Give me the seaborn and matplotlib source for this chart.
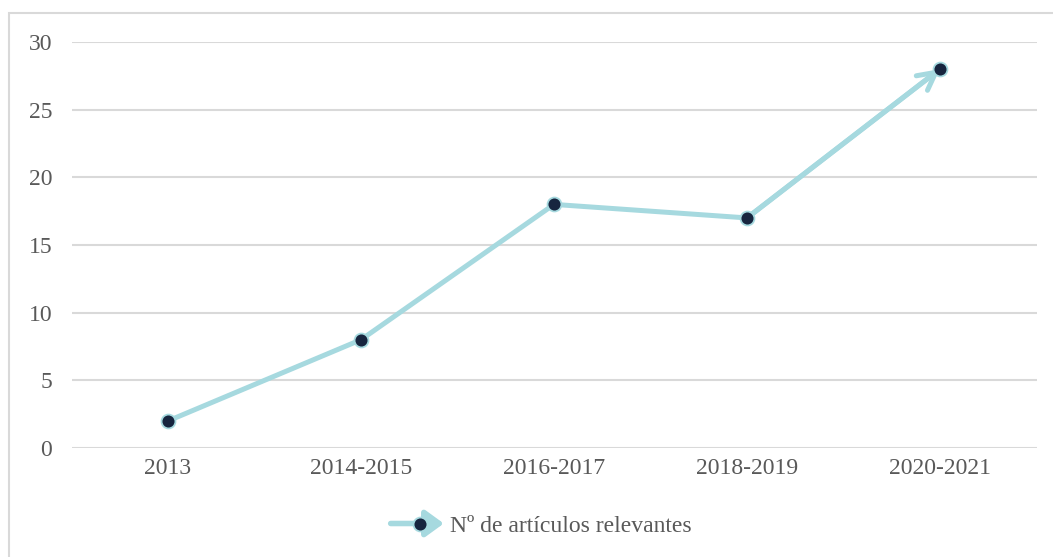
import matplotlib
matplotlib.use("Agg")
import matplotlib.pyplot as plt
import seaborn as sns
import pandas as pd
from matplotlib.lines import Line2D
from matplotlib.legend_handler import HandlerLine2D
from matplotlib.patches import Rectangle, FancyArrowPatch

categories = ["2013", "2014-2015", "2016-2017", "2018-2019", "2020-2021"]
values = [2, 8, 18, 17, 28]
series_name = "Nº de artículos relevantes"
yticks = [0, 5, 10, 15, 20, 25, 30]

LINE = "#A6D9DF"
MARK = "#17253F"
TXT = "#595959"
GRID = "#D9D9D9"
FS = 17

sns.set_theme(style="white")
plt.rcParams["font.family"] = ["Liberation Serif", "DejaVu Serif"]

df = pd.DataFrame({"cat": categories, "val": values, "serie": series_name})

fig = plt.figure(figsize=(10.53, 5.57), dpi=100)
ax = fig.add_axes([71.5 / 1053, 1 - 448 / 557, 965 / 1053, 406 / 557])

fig.patches.append(Rectangle((9 / 1053, -0.1), 1.2, 1 - 13 / 557 + 0.1,
                             transform=fig.transFigure, fill=False,
                             edgecolor="#D9D9D9", linewidth=1.5, zorder=0))

sns.lineplot(data=df, x="cat", y="val", ax=ax, color=LINE, linewidth=3.6,
             marker="o", markersize=10, markerfacecolor=MARK,
             markeredgecolor=LINE, markeredgewidth=1.3, legend=False,
             sort=False, zorder=3)

# arrowhead on last segment
ax.annotate("", xy=(len(values) - 1, values[-1]),
            xytext=(len(values) - 2, values[-2]),
            arrowprops=dict(arrowstyle="->,head_length=1.05,head_width=0.55",
                            color=LINE, lw=3.6, shrinkA=0, shrinkB=0,
                            capstyle="round"), zorder=2)

ax.set_xlim(-0.5, len(categories) - 0.5)
ax.set_ylim(0, 30)
ax.set_yticks(yticks)
ax.set_xlabel("")
ax.set_ylabel("")
for s in ax.spines.values():
    s.set_visible(False)
ax.grid(axis="y", color=GRID, linewidth=1.5)
ax.grid(axis="x", visible=False)
ax.tick_params(axis="both", length=0, labelsize=FS, labelcolor=TXT)
ax.tick_params(axis="y", pad=14)
ax.tick_params(axis="x", pad=7)


class HandlerArrowLine(HandlerLine2D):
    def create_artists(self, legend, orig_handle, xdescent, ydescent,
                       width, height, fontsize, trans):
        y = height / 2 - ydescent
        arr = FancyArrowPatch((-xdescent, y), (-xdescent + width, y),
                              arrowstyle="-|>,head_length=0.55,head_width=0.4",
                              color=LINE, lw=4.0, shrinkA=0, shrinkB=0,
                              transform=trans, mutation_scale=20)
        mk = Line2D([-xdescent + width * 0.55], [y], marker="o",
                    markersize=10, markerfacecolor=MARK,
                    markeredgecolor=LINE, markeredgewidth=1.3,
                    linestyle="none", transform=trans)
        return [arr, mk]


handle = Line2D([], [], color=LINE)
leg = fig.legend([handle], [series_name], loc="center",
                 bbox_to_anchor=(541 / 1053, 1 - 526 / 557), frameon=False,
                 fontsize=FS, handlelength=2.25, handletextpad=0.25,
                 handler_map={Line2D: HandlerArrowLine()})
for t in leg.get_texts():
    t.set_color(TXT)

fig.savefig("out.png", dpi=100)
